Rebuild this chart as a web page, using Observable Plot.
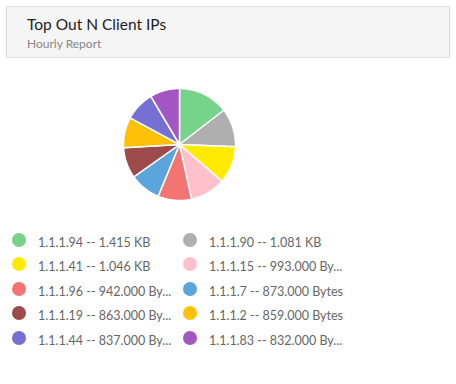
<!DOCTYPE html>
<html>
<head>
<meta charset="utf-8">
<script src="https://cdn.jsdelivr.net/npm/d3@7"></script>
<script src="https://cdn.jsdelivr.net/npm/@observablehq/plot@0.6"></script>
<style>
  html, body { margin: 0; padding: 0; background: #fff; }
  body { width: 456px; height: 384px; position: relative; font-family: Lato, "Open Sans", sans-serif; overflow: hidden; }
  .head { position: absolute; left: 6px; top: 6px; width: 442px; height: 50px; background: #f5f5f5; border: 1px solid #dedede; border-radius: 2px; }
  .title { position: absolute; left: 20px; top: 8px; font-size: 15.5px; color: #222; white-space: nowrap; }
  .subtitle { position: absolute; left: 20px; top: 29px; font-size: 12px; color: #888; white-space: nowrap; }
  #chart { position: absolute; left: 0; top: 64px; }
  .legend { position: absolute; left: 12px; top: 233px; display: grid; grid-template-columns: 171px 171px; grid-auto-rows: 24.4px; }
  .item { display: flex; align-items: flex-start; }
  .dot { width: 14px; height: 14px; border-radius: 50%; flex: none; }
  .lab { margin-left: 12px; margin-top: 1px; font-size: 12.5px; color: #666; white-space: nowrap; line-height: 18px; }
</style>
</head>
<body>
<div class="head"><div class="title">Top Out N Client IPs</div><div class="subtitle">Hourly Report</div></div>
<div id="chart"></div>
<div class="legend" id="legend"></div>
<script>
const ips = ["1.1.1.94","1.1.1.90","1.1.1.41","1.1.1.15","1.1.1.96","1.1.1.7","1.1.1.19","1.1.1.2","1.1.1.44","1.1.1.83"];
const bytes = [1415, 1081, 1046, 993, 942, 873, 863, 859, 837, 832];
const colors = ["#77d38a","#afafaf","#ffea00","#ffc0cb","#f47373","#5ba4dc","#9c4a4a","#ffc107","#7570d2","#a356c3"];

const fmt = v => v >= 1000 ? (v/1000).toFixed(3) + " KB" : v.toFixed(3) + " Bytes";

const arcs = d3.pie().sort(null).value(d => d)(bytes);
const pts = [];
arcs.forEach((a, i) => {
  pts.push({ip: ips[i], x: 0, y: 0});
  const n = 40;
  for (let k = 0; k <= n; k++) {
    const t = a.startAngle + (a.endAngle - a.startAngle) * k / n;
    pts.push({ip: ips[i], x: Math.sin(t), y: Math.cos(t)});
  }
  pts.push({ip: ips[i], x: 0, y: 0});
});

const plot = Plot.plot({
  width: 358, height: 160,
  marginLeft: 123, marginRight: 123, marginTop: 24, marginBottom: 24,
  x: {domain: [-1, 1], axis: null},
  y: {domain: [-1, 1], axis: null},
  color: {domain: ips, range: colors},
  marks: [
    Plot.line(pts, {x: "x", y: "y", z: "ip", fill: "ip", stroke: "#fff", strokeWidth: 1.5, curve: "linear-closed"})
  ]
});
document.getElementById("chart").appendChild(plot);

const ctx = document.createElement("canvas").getContext("2d");
ctx.font = "12.5px Lato";
const maxW = 136;
function fit(s) {
  if (ctx.measureText(s).width <= maxW) return s;
  let t = s;
  while (t.length > 1 && ctx.measureText(t + "...").width > maxW) t = t.slice(0, -1);
  return t.trimEnd() + "...";
}

const leg = document.getElementById("legend");
ips.forEach((ip, i) => {
  const it = document.createElement("div");
  it.className = "item";
  it.innerHTML = `<div class="dot" style="background:${colors[i]}"></div><div class="lab">${fit(ip + " -- " + fmt(bytes[i]))}</div>`;
  leg.appendChild(it);
});
</script>
</body>
</html>
